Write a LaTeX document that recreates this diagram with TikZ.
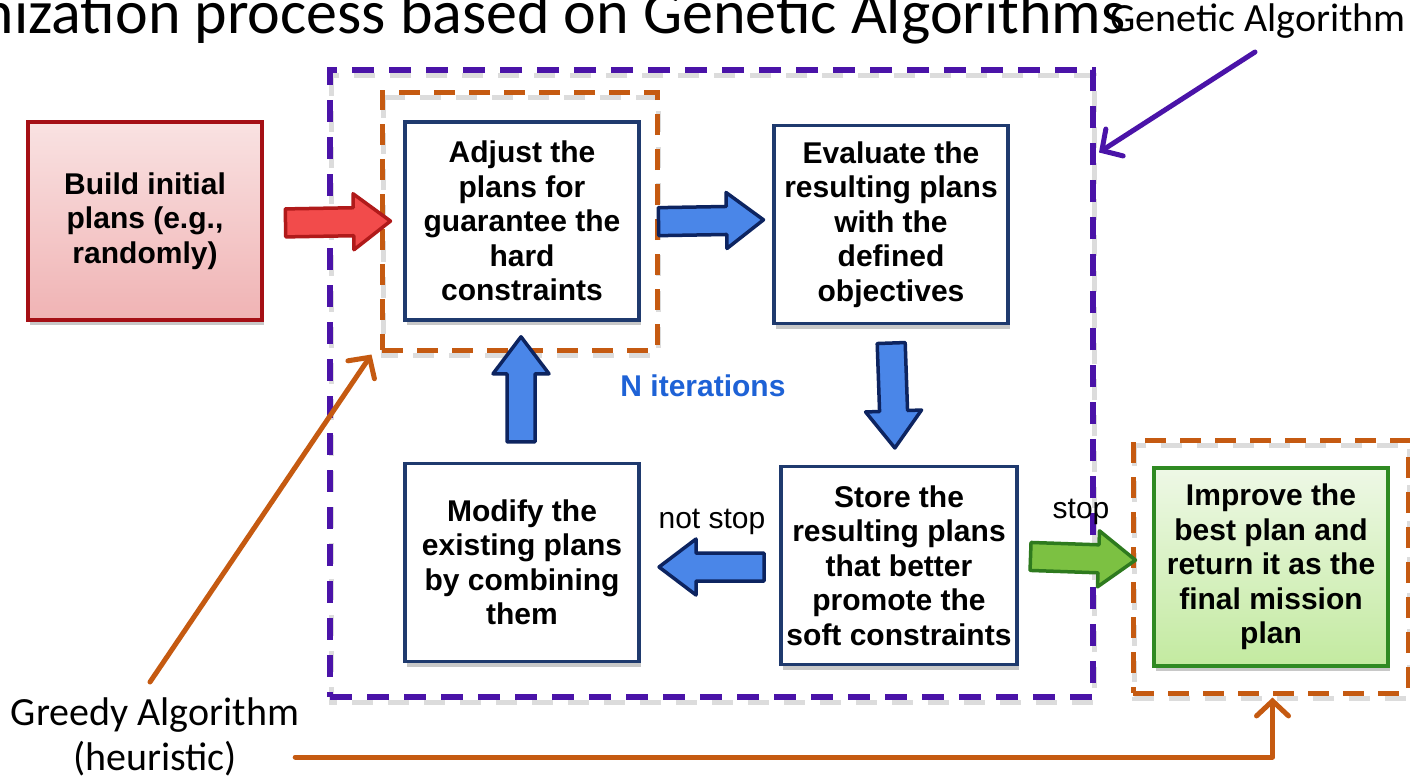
\documentclass[tikz,border=0pt]{standalone}
\usepackage{fontspec}
\setmainfont{Liberation Sans}
\newfontfamily\calib{Carlito}
\usetikzlibrary{calc,shadows,arrows.meta}

\definecolor{gapurple}{HTML}{4A13A8}
\definecolor{grorange}{HTML}{C55A11}
\definecolor{boxnavy}{HTML}{1F3A6E}
\definecolor{redline}{HTML}{A50F15}
\definecolor{redtop}{HTML}{F9E2E2}
\definecolor{redbot}{HTML}{F0B3B4}
\definecolor{greenline}{HTML}{2F8A22}
\definecolor{greentop}{HTML}{EEF8E6}
\definecolor{greenbot}{HTML}{C3EAA0}
\definecolor{arrblue}{HTML}{4A86E8}
\definecolor{arrblueline}{HTML}{0D2460}
\definecolor{arrred}{HTML}{F24B4B}
\definecolor{arrredline}{HTML}{B01A1A}
\definecolor{arrgreen}{HTML}{7CC142}
\definecolor{arrgreenline}{HTML}{2E7A1E}
\definecolor{iterblue}{HTML}{1E62D6}

\newcommand\boxfont{\bfseries\fontsize{30}{34.5}\selectfont}
\newcommand\labfont{\fontsize{30}{34}\selectfont}
\newcommand\calfont{\calib\fontsize{40}{45}\selectfont}

% block arrow centred at #2, turned by #3 degrees
\newcommand\blockarrow[3]{%
  \draw[#1, shift={#2}, rotate=#3]
    (-52,-14) -- (16,-14) -- (16,-28) -- (53,0) -- (16,28) -- (16,14) -- (-52,14) -- cycle;}

\tikzset{
  softshadow/.style={drop shadow={shadow xshift=2pt, shadow yshift=-5pt, opacity=0.3, fill=black!70}},
  stepbox/.style={draw=boxnavy, line width=3.5pt, fill=white, minimum width=234pt,
    minimum height=198pt, align=center, inner sep=0pt, font=\boxfont, softshadow},
  startbox/.style={stepbox, draw=redline, top color=redtop, bottom color=redbot},
  endbox/.style={stepbox, draw=greenline, top color=greentop, bottom color=greenbot},
  gaframe/.style={draw=gapurple, line width=6pt, dash pattern=on 22pt off 15pt, inner sep=0pt},
  grframe/.style={draw=grorange, line width=5pt, dash pattern=on 21pt off 14pt, inner sep=0pt},
  frameshade/.style={draw=black!30, line width=5pt, dash pattern=on 21pt off 15pt, opacity=0.45},
  bluearrow/.style={fill=arrblue, draw=arrblueline, line width=3.5pt, line join=round},
  redarrow/.style={fill=arrred, draw=arrredline, line width=3.5pt, line join=round},
  greenarrow/.style={fill=arrgreen, draw=arrgreenline, line width=3.5pt, line join=round},
  pointer/.style={line width=5pt, line cap=round, line join=round,
    -{Straight Barb[length=15pt, width=32pt, line cap=round]}},
}

\begin{document}
\begin{tikzpicture}[x=1pt, y=-1pt]
\path[use as bounding box] (0,0) rectangle (1410,780);
\clip (0,0) rectangle (1410,780);
\fill[white] (0,0) rectangle (1410,780);

% heading, cut by the page edge
\node[anchor=base east, inner sep=0pt, font=\calib\fontsize{62}{70}\selectfont] (title)
  at (1126,33) {Optimization process based on Genetic Algorithms};

% frame shadows
\draw[frameshade] (331,75) rectangle (1094,702);
\draw[frameshade] (383,97) rectangle (658,355);
\draw[frameshade] (1134,445) rectangle (1409,698);

% group frames
\node[gaframe, minimum width=763pt, minimum height=627pt] (ga) at (711.5,383.5) {};
\node[grframe, minimum width=275pt, minimum height=258pt] (gr1) at (519.5,221) {};
\node[grframe, minimum width=275pt, minimum height=253pt] (gr2) at (1270.5,566.5) {};

% steps
\node[startbox] (build) at (145,221) {Build initial\\plans (e.g.,\\randomly)};
\node[stepbox] (adjust) at (522,221) {Adjust the\\plans for\\guarantee the\\hard\\constraints};
\node[stepbox] (evaluate) at (891,224.5) {Evaluate the\\resulting plans\\with the\\defined\\objectives};
\node[stepbox] (modify) at (522,562.5) {Modify the\\existing plans\\by combining\\them};
\node[stepbox, minimum width=236pt] (store) at (899,565.5) {Store the\\resulting plans\\that better\\promote the\\soft constraints};
\node[endbox] (improve) at (1271,567) {Improve the\\best plan and\\return it as the\\final mission\\plan};

% block arrows between steps
\blockarrow{redarrow}{($(build.east)!0.5!(adjust.west)+(4,1)$)}{1}
\blockarrow{bluearrow}{($(adjust.east)!0.5!(evaluate.west)+(4,-2)$)}{1}
\blockarrow{bluearrow}{($(evaluate.south)!0.5!(store.north)+(-2,0)$)}{-88}
\blockarrow{bluearrow}{($(modify.north)!0.5!(adjust.south)+(-1,-2)$)}{90}
\blockarrow{bluearrow}{($(store.west)!0.5!(modify.east)+(2,3)$)}{180}
\blockarrow{greenarrow}{($(store.east)!0.5!(improve.west)+(-3,-8)$)}{-2}

% labels
\node[font=\bfseries\labfont, text=iterblue] (iter) at (703,386) {N iterations};
\node[font=\labfont] (notstop) at (712,522) {not stop};
\node[font=\labfont] (stop) at (1081,512) {stop};
\node[font=\calfont, anchor=base] (galabel) at (1258,31) {Genetic Algorithm};
\node[font=\calfont, align=center, inner sep=0pt] (greedy) at (155,737) {Greedy Algorithm\\(heuristic)};

% pointers
\draw[pointer, draw=gapurple] (1255,52) -- ($(ga.north east)!0.135!(ga.south east)+(3,0)$);
\draw[pointer, draw=grorange] (150,682) -- ([xshift=-8pt,yshift=-2pt]gr1.south west);
\draw[pointer, draw=grorange] ([xshift=-4pt,yshift=-20pt]greedy.east) -| ([xshift=2pt,yshift=-2pt]gr2.south);
\end{tikzpicture}
\end{document}
